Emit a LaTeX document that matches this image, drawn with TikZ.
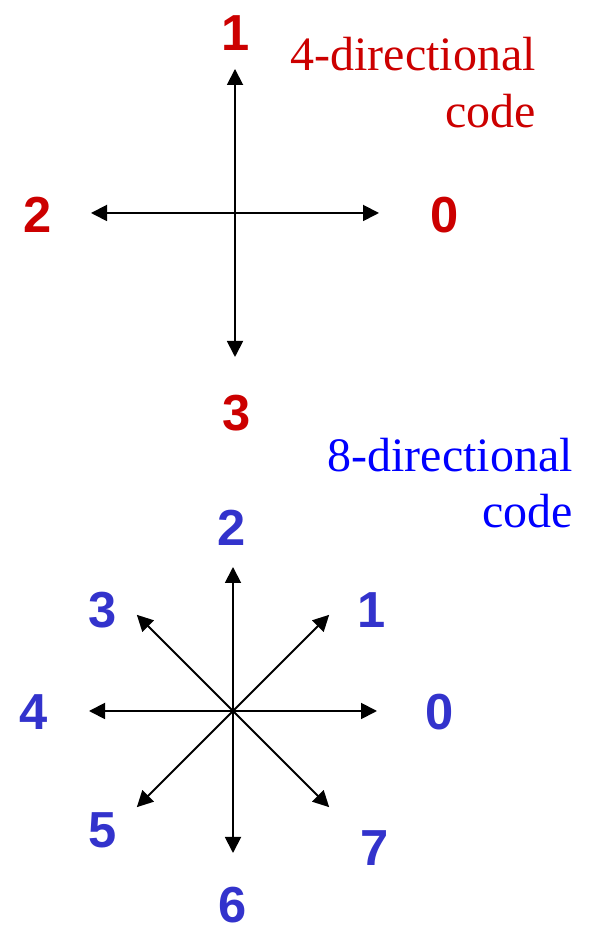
\documentclass[tikz,border=0pt]{standalone}
\usepackage{fontspec}
\setmainfont{Liberation Serif}
\setsansfont{Liberation Sans}
\usetikzlibrary{arrows.meta,calc}
\definecolor{codered}{RGB}{204,0,0}
\definecolor{codeblue}{RGB}{51,51,204}
\definecolor{titleblue}{RGB}{0,0,255}

\begin{document}
\begin{tikzpicture}[x=0.75pt,y=0.75pt,>={Triangle[length=12pt,width=12pt]},
  arr/.style={->,line width=1.4pt},
  dig/.style={font=\fontsize{38}{38}\selectfont\sffamily\bfseries,inner sep=0pt},
  captext/.style={font=\fontsize{36}{43}\selectfont,anchor=base east,inner sep=0pt}]
  \useasboundingbox (0,0) rectangle (592,930);
  % 4-directional
  \coordinate (C4) at (235,717);
  \foreach \n/\a in {0/0,1/90,2/180,3/270}
    \coordinate (F\n) at ($(C4)+(\a:144)$);
  \foreach \n in {0,...,3} \draw[arr] (C4) -- (F\n);
  \node[dig,codered] (f0) at (445,715) {0};
  \node[dig,codered] (f1) at (236,897) {1};
  \node[dig,codered] (f2) at (38,715) {2};
  \node[dig,codered] (f3) at (237,517) {3};
  \node[captext,codered] (t4) at (536,859) {4-directional};
  \node[captext,codered] (t4b) at (536,802) {code};
  % 8-directional
  \coordinate (C8) at (233,219);
  \foreach \n/\a/\r in {0/0/144,1/45/136,2/90/144,3/135/136,4/180/144,5/225/136,6/270/142,7/315/136}
    \coordinate (E\n) at ($(C8)+(\a:\r)$);
  \foreach \n in {0,...,7} \draw[arr] (C8) -- (E\n);
  \node[dig,codeblue] (e0) at (440,218) {0};
  \node[dig,codeblue] (e1) at (372,320) {1};
  \node[dig,codeblue] (e2) at (232,402) {2};
  \node[dig,codeblue] (e3) at (103,320) {3};
  \node[dig,codeblue] (e4) at (34,218) {4};
  \node[dig,codeblue] (e5) at (103,100) {5};
  \node[dig,codeblue] (e6) at (233,25) {6};
  \node[dig,codeblue] (e7) at (375,82) {7};
  \node[captext,titleblue] (t8) at (573,458) {8-directional};
  \node[captext,titleblue] (t8b) at (573,402) {code};
\end{tikzpicture}
\end{document}
